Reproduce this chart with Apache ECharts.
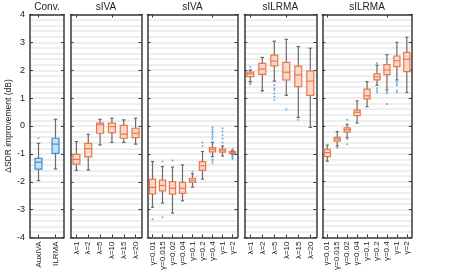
<!DOCTYPE html>
<html><head><meta charset="utf-8">
<script src="https://cdn.jsdelivr.net/npm/echarts@6/dist/echarts.min.js"></script>
<style>html,body{margin:0;padding:0;background:#fff}#c{width:471px;height:273px}</style>
</head><body><div id="c"></div>
<script>
// ---------- data ----------
const panelTitles = ['Conv.', 'sIVA', 'sIVA', 'sILRMA', 'sILRMA'];
const yTicks = [-4, -3, -2, -1, 0, 1, 2, 3, 4];
const yName = 'ΔSDR improvement (dB)';

const convCats = ['AuxIVA', 'ILRMA'];
const convStats = [ // [min, q1, median, q3, max]
  [-1.96, -1.55, -1.30, -1.16, -0.62],
  [-1.54, -0.98, -0.65, -0.44, 0.24]
];
const convOutliers = [['AuxIVA', -0.44]];

const sivaLamCats = ['λ=1', 'λ=2', 'λ=5', 'λ=10', 'λ=15', 'λ=20'];
const sivaLamStats = [
  [-1.59, -1.37, -1.20, -1.02, -0.56],
  [-1.58, -1.11, -0.81, -0.62, -0.30],
  [-0.68, -0.26, 0.04, 0.10, 0.24],
  [-0.59, -0.24, -0.02, 0.10, 0.28],
  [-0.59, -0.44, -0.29, 0.02, 0.22],
  [-0.65, -0.42, -0.26, -0.08, 0.28]
];
const sivaLamOutliers = [];

const sivaGamCats = ['γ=0.01', 'γ=0.015', 'γ=0.02', 'γ=0.04', 'γ=0.1', 'γ=0.2', 'γ=0.4', 'γ=1', 'γ=2'];
const sivaGamStats = [
  [-2.92, -2.44, -2.21, -1.91, -1.28],
  [-2.77, -2.33, -2.14, -1.95, -1.46],
  [-3.13, -2.45, -2.24, -2.00, -1.48],
  [-2.69, -2.42, -2.24, -2.03, -1.40],
  [-2.20, -2.03, -1.95, -1.88, -1.72],
  [-1.91, -1.60, -1.43, -1.28, -0.92],
  [-1.10, -0.93, -0.84, -0.78, -0.59],
  [-1.08, -0.94, -0.87, -0.83, -0.72],
  [-1.02, -0.99, -0.96, -0.92, -0.88]
];
const sivaGamOutliers = [
  ['γ=0.01', -3.35],
  ['γ=0.015', -1.28], ['γ=0.015', -3.28],
  ['γ=0.02', -1.24],
  ['γ=0.1', -1.65],
  ['γ=0.2', -0.60], ['γ=0.2', -0.72],
  ['γ=0.4', -0.05], ['γ=0.4', -0.12], ['γ=0.4', -0.18], ['γ=0.4', -0.25], ['γ=0.4', -0.32],
  ['γ=0.4', -0.40], ['γ=0.4', -0.48], ['γ=0.4', -1.20], ['γ=0.4', -1.26], ['γ=0.4', -1.34],
  ['γ=1', -0.08], ['γ=1', -0.20], ['γ=1', -0.33], ['γ=1', -0.45], ['γ=1', -0.60],
  ['γ=2', -0.82], ['γ=2', -1.06], ['γ=2', -1.10], ['γ=2', -1.14], ['γ=2', -1.18]
];

const silrmaLamCats = ['λ=1', 'λ=2', 'λ=5', 'λ=10', 'λ=15', 'λ=20'];
const silrmaLamStats = [
  [1.59, 1.77, 1.87, 1.93, 2.01],
  [1.27, 1.85, 2.04, 2.25, 2.46],
  [1.61, 2.16, 2.33, 2.54, 3.04],
  [1.10, 1.65, 1.93, 2.28, 3.11],
  [0.31, 1.41, 1.83, 2.15, 2.85],
  [-0.05, 1.10, 1.61, 1.98, 2.79]
];
const silrmaLamOutliers = [
  ['λ=1', 2.13], ['λ=1', 1.53], ['λ=1', 1.50],
  ['λ=2', 1.24],
  ['λ=5', 1.47], ['λ=5', 1.35], ['λ=5', 1.29], ['λ=5', 1.17], ['λ=5', 1.05], ['λ=5', 0.93],
  ['λ=10', 0.60],
  ['λ=15', 0.22]
];

const silrmaGamCats = ['γ=0.01', 'γ=0.015', 'γ=0.02', 'γ=0.04', 'γ=0.1', 'γ=0.2', 'γ=0.4', 'γ=1', 'γ=2'];
const silrmaGamStats = [
  [-1.27, -1.10, -0.96, -0.84, -0.69],
  [-0.72, -0.55, -0.47, -0.41, -0.20],
  [-0.42, -0.22, -0.14, -0.07, 0.06],
  [0.10, 0.37, 0.49, 0.57, 0.90],
  [0.69, 0.97, 1.08, 1.32, 1.59],
  [1.46, 1.65, 1.76, 1.87, 2.18],
  [1.29, 1.84, 2.01, 2.20, 2.56],
  [1.65, 2.13, 2.34, 2.51, 3.00],
  [1.20, 1.95, 2.39, 2.64, 3.18]
];
const silrmaGamOutliers = [
  ['γ=0.015', -0.78],
  ['γ=0.02', 0.22], ['γ=0.02', -0.47], ['γ=0.02', -0.66],
  ['γ=0.2', 2.25], ['γ=0.2', 1.35], ['γ=0.2', 1.27], ['γ=0.2', 1.20],
  ['γ=0.4', 1.23], ['γ=0.4', 1.17], ['γ=0.4', 0.79],
  ['γ=1', 1.59], ['γ=1', 1.51], ['γ=1', 1.45], ['γ=1', 1.27], ['γ=1', 1.20]
];

// ---------- layout & style ----------
const FONT = '"Liberation Sans", Arial, Helvetica, sans-serif';
const panels = [
  {cats: convCats, stats: convStats, out: convOutliers, left: 30, width: 34, edge: '#3d8fd1', fill: '#c8e0f3'},
  {cats: sivaLamCats, stats: sivaLamStats, out: sivaLamOutliers, left: 70.5, width: 71, edge: '#e8794c', fill: '#f9d8c9'},
  {cats: sivaGamCats, stats: sivaGamStats, out: sivaGamOutliers, left: 147.5, width: 90, edge: '#e8794c', fill: '#f9d8c9'},
  {cats: silrmaLamCats, stats: silrmaLamStats, out: silrmaLamOutliers, left: 244.3, width: 72, edge: '#e8794c', fill: '#f9d8c9'},
  {cats: silrmaGamCats, stats: silrmaGamStats, out: silrmaGamOutliers, left: 322.3, width: 89.5, edge: '#e8794c', fill: '#f9d8c9'}
];
const TOP = 14.5, H = 223;
const frame = {color: '#3a3a3a', width: 1.5};
const gridLine = {color: '#e9e9e9', width: 1.6};

function renderBox(edge, fill) {
  return function (params, api) {
    const i = api.value(0);
    const pMin = api.coord([i, api.value(1)]);
    const pQ1 = api.coord([i, api.value(2)]);
    const pMed = api.coord([i, api.value(3)]);
    const pQ3 = api.coord([i, api.value(4)]);
    const pMax = api.coord([i, api.value(5)]);
    const band = api.size([1, 0])[0];
    const bw = Math.min(7, band * 0.62);
    const cw = bw * 0.5;
    const x = pMin[0];
    const wl = {stroke: '#6a6a6a', lineWidth: 1.2};
    return {
      type: 'group',
      children: [
        {type: 'line', shape: {x1: x, y1: pMax[1], x2: x, y2: pQ3[1]}, style: wl},
        {type: 'line', shape: {x1: x, y1: pQ1[1], x2: x, y2: pMin[1]}, style: wl},
        {type: 'line', shape: {x1: x - cw / 2, y1: pMax[1], x2: x + cw / 2, y2: pMax[1]}, style: wl},
        {type: 'line', shape: {x1: x - cw / 2, y1: pMin[1], x2: x + cw / 2, y2: pMin[1]}, style: wl},
        {type: 'rect', shape: {x: x - bw / 2, y: pQ3[1], width: bw, height: pQ1[1] - pQ3[1]},
          style: {fill: fill, stroke: edge, lineWidth: 1.2}},
        {type: 'line', shape: {x1: x - bw / 2, y1: pMed[1], x2: x + bw / 2, y2: pMed[1]},
          style: {stroke: edge, lineWidth: 1.2}}
      ]
    };
  };
}

const grid = [], xAxis = [], yAxis = [], series = [], title = [];
panels.forEach((p, k) => {
  grid.push({left: p.left, top: TOP, width: p.width, height: H, show: false});
  const xBase = {
    type: 'category', data: p.cats, gridIndex: k, boundaryGap: true,
    axisLine: {show: true, onZero: false, lineStyle: frame},
    axisTick: {show: true, inside: true, alignWithLabel: true, length: 3, lineStyle: {color: '#3a3a3a', width: 1}},
    splitLine: {show: false}
  };
  xAxis.push(Object.assign({}, xBase, {
    position: 'bottom',
    axisLabel: {rotate: 90, fontSize: 8, color: '#222', margin: 4, fontFamily: FONT, interval: 0}
  }));
  xAxis.push(Object.assign({}, xBase, {position: 'top', axisLabel: {show: false}}));
  const yBase = {
    type: 'value', gridIndex: k, min: yTicks[0], max: yTicks[yTicks.length - 1], interval: 1,
    axisLine: {show: true, onZero: false, lineStyle: frame},
    axisTick: {show: true, inside: true, length: 3, lineStyle: {color: '#3a3a3a', width: 1}}
  };
  yAxis.push(Object.assign({}, yBase, {
    position: 'left',
    axisLabel: {show: k === 0, fontSize: 9, color: '#222', margin: 5, fontFamily: FONT},
    splitLine: {show: true, lineStyle: gridLine},
    minorTick: {show: false, splitNumber: 5},
    minorSplitLine: {show: true, lineStyle: gridLine},
    name: k === 0 ? yName : '',
    nameLocation: 'middle', nameGap: 16,
    nameTextStyle: {fontSize: 8.5, color: '#222', fontFamily: FONT}
  }));
  yAxis.push(Object.assign({}, yBase, {position: 'right', axisLabel: {show: false}, splitLine: {show: false}}));

  series.push({
    type: 'custom', xAxisIndex: 2 * k, yAxisIndex: 2 * k,
    renderItem: renderBox(p.edge, p.fill),
    encode: {x: 0, y: [1, 2, 3, 4, 5]},
    data: p.stats.map((s, i) => [i].concat(s)),
    z: 3
  });
  series.push({
    type: 'scatter', xAxisIndex: 2 * k, yAxisIndex: 2 * k,
    symbol: 'circle', symbolSize: 2,
    itemStyle: {color: '#4a9de0'},
    data: p.out, z: 4, silent: true
  });
  title.push({
    text: panelTitles[k], left: p.left + p.width / 2, top: 2, padding: 0, textAlign: 'center',
    textStyle: {fontSize: 10, fontWeight: 'normal', color: '#222', fontFamily: FONT}
  });
});

const chart = echarts.init(document.getElementById('c'), null, {renderer: 'canvas'});
chart.setOption({animation: false, backgroundColor: '#fff', title, grid, xAxis, yAxis, series});
</script></body></html>
